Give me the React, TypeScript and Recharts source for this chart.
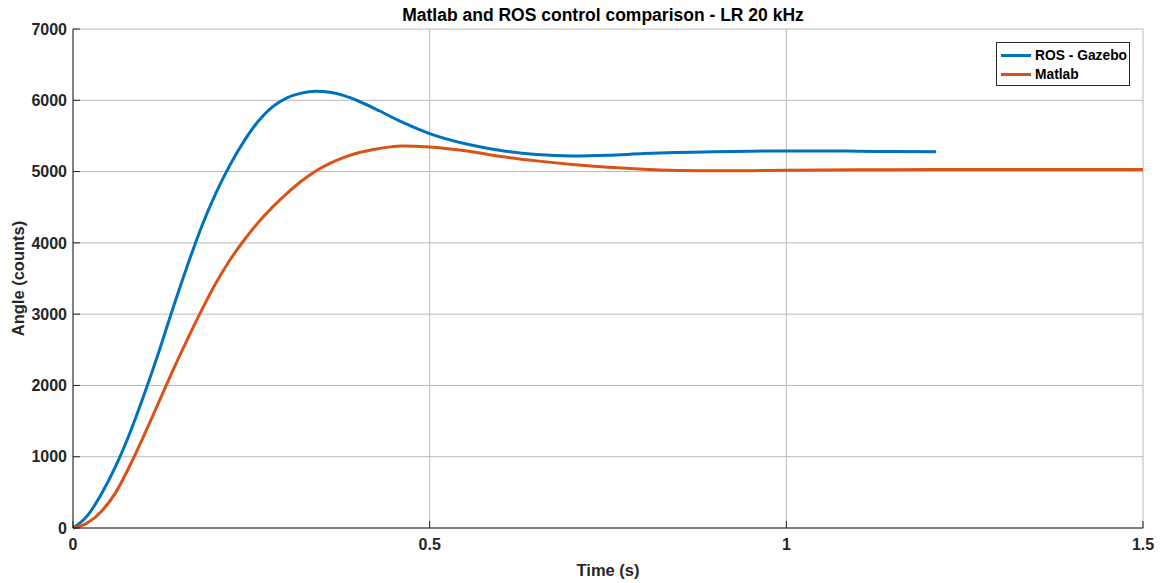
import React from "react";
import {
  LineChart,
  Line,
  XAxis,
  YAxis,
  CartesianGrid,
  Legend,
} from "recharts";

// time (s) samples shared by both traces
const times = [
  0, 0.02, 0.04, 0.06, 0.08, 0.1, 0.12, 0.14, 0.16, 0.18, 0.2, 0.22, 0.24,
  0.26, 0.28, 0.3, 0.32, 0.34, 0.36, 0.38, 0.4, 0.43, 0.46, 0.5, 0.55, 0.6,
  0.65, 0.7, 0.75, 0.8, 0.85, 0.9, 0.95, 1.0, 1.05, 1.1, 1.15, 1.21, 1.3, 1.4,
  1.5,
];

// ROS - Gazebo trace stops at ~1.21 s
const rosGazebo = [
  0, 170, 480, 870, 1340, 1880, 2460, 3080, 3670, 4220, 4690, 5090, 5430,
  5710, 5910, 6035, 6100, 6127, 6112, 6065, 5990, 5850, 5700, 5533, 5390, 5295,
  5238, 5218, 5228, 5252, 5268, 5279, 5286, 5290, 5290, 5286, 5281, 5278, null,
  null, null,
];

const matlab = [
  0, 70, 235, 500, 880, 1310, 1760, 2210, 2640, 3050, 3430, 3760, 4040, 4290,
  4505, 4695, 4865, 5005, 5115, 5200, 5265, 5325, 5360, 5346, 5292, 5212, 5150,
  5100, 5060, 5032, 5016, 5010, 5012, 5018, 5022, 5025, 5027, 5028, 5030, 5030,
  5030,
];

const xTicks = [0, 0.5, 1, 1.5];
const yTicks = [0, 1000, 2000, 3000, 4000, 5000, 6000, 7000];

const data = times.map((t, i) => ({
  t,
  ros: rosGazebo[i],
  matlab: matlab[i],
}));

const FONT = "'Liberation Sans', Arial, Helvetica, sans-serif";
const INK = "#262626";
const BLUE = "#0072BD";
const ORANGE = "#D95319";

const tickStyle = {
  fill: INK,
  fontSize: 16,
  fontWeight: 700,
  fontFamily: FONT,
};

function LegendBox() {
  const items = [
    { name: "ROS - Gazebo", color: BLUE },
    { name: "Matlab", color: ORANGE },
  ];
  return (
    <div
      style={{
        border: `1px solid ${INK}`,
        background: "#fff",
        width: 134,
        height: 44,
        boxSizing: "border-box",
        paddingTop: 3,
      }}
    >
      {items.map((it) => (
        <div
          key={it.name}
          style={{
            display: "flex",
            alignItems: "center",
            height: 19,
            fontFamily: FONT,
            fontSize: 13.8,
            fontWeight: 700,
            color: "#000",
            whiteSpace: "nowrap",
          }}
        >
          <span
            style={{
              display: "inline-block",
              flex: "none",
              width: 30,
              height: 3,
              marginLeft: 4,
              marginRight: 4,
              background: it.color,
            }}
          />
          {it.name}
        </div>
      ))}
    </div>
  );
}

export default function App() {
  return (
    <div
      style={{
        position: "absolute",
        left: 0,
        top: 0,
        width: 1161,
        height: 583,
        background: "#fff",
      }}
    >
      <div
        style={{
          position: "absolute",
          left: 303,
          top: 5,
          width: 600,
          textAlign: "center",
          fontFamily: FONT,
          fontSize: 17.5,
          fontWeight: 700,
          color: "#000",
          lineHeight: "20px",
          whiteSpace: "nowrap",
        }}
      >
        Matlab and ROS control comparison - LR 20 kHz
      </div>
      <LineChart
        width={1161}
        height={583}
        data={data}
        margin={{ top: 29, right: 18, bottom: 0, left: 0 }}
      >
        <CartesianGrid stroke="#b8b8b8" strokeWidth={1} />
        <XAxis
          dataKey="t"
          type="number"
          domain={[0, 1.5]}
          ticks={xTicks}
          height={55}
          stroke={INK}
          tickSize={-7}
          tickMargin={18}
          tick={tickStyle}
          label={({ viewBox }: any) => (
            <text
              x={viewBox.x + viewBox.width / 2}
              y={576}
              textAnchor="middle"
              fill={INK}
              fontFamily={FONT}
              fontSize={16.5}
              fontWeight={700}
            >
              Time (s)
            </text>
          )}
        />
        <XAxis
          xAxisId="top"
          orientation="top"
          type="number"
          domain={[0, 1.5]}
          ticks={xTicks}
          height={0}
          stroke={INK}
          tickSize={-7}
          tick={false}
        />
        <YAxis
          type="number"
          domain={[0, 7000]}
          ticks={yTicks}
          width={73}
          stroke={INK}
          tickSize={-7}
          tickMargin={13}
          tick={tickStyle}
          label={({ viewBox }: any) => (
            <text
              x={18}
              y={viewBox.y + viewBox.height / 2}
              transform={`rotate(-90, 18, ${viewBox.y + viewBox.height / 2})`}
              textAnchor="middle"
              dominantBaseline="central"
              fill={INK}
              fontFamily={FONT}
              fontSize={16.5}
              fontWeight={700}
            >
              Angle (counts)
            </text>
          )}
        />
        <YAxis
          yAxisId="r"
          orientation="right"
          type="number"
          domain={[0, 7000]}
          ticks={yTicks}
          width={0}
          stroke={INK}
          tickSize={-7}
          tick={false}
        />
        <Legend
          layout="vertical"
          align="center"
          verticalAlign="middle"
          wrapperStyle={{ left: 996, top: 42, width: 134 }}
          content={() => <LegendBox />}
        />
        <Line
          type="monotone"
          dataKey="ros"
          name="ROS - Gazebo"
          stroke={BLUE}
          strokeWidth={3}
          dot={false}
          isAnimationActive={false}
        />
        <Line
          type="monotone"
          dataKey="matlab"
          name="Matlab"
          stroke={ORANGE}
          strokeWidth={3}
          dot={false}
          isAnimationActive={false}
        />
      </LineChart>
    </div>
  );
}
